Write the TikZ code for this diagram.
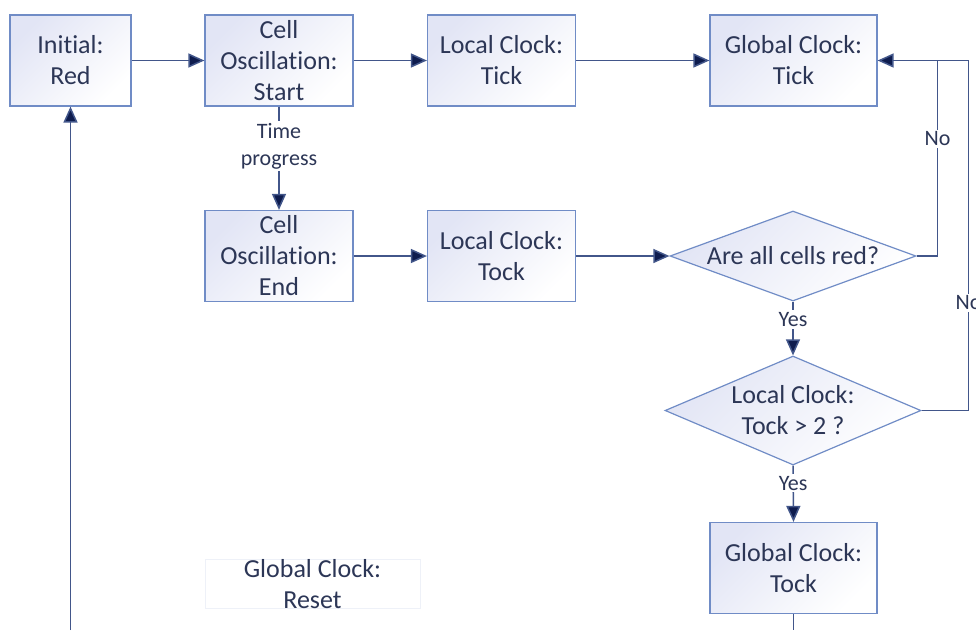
\documentclass[tikz,border=0pt]{standalone}
\usepackage{fontspec}
\setmainfont{Carlito}[Ligatures=NoCommon]
\usetikzlibrary{shapes.geometric,arrows.meta}

\definecolor{boxline}{RGB}{112,140,198}
\definecolor{boxfill}{RGB}{226,229,245}
\definecolor{inkblue}{RGB}{44,54,86}
\definecolor{flowline}{RGB}{66,86,138}
\definecolor{flowhead}{RGB}{14,28,78}

\begin{document}
\begin{tikzpicture}[x=1pt, y=-1pt,
    >={Triangle[length=16pt,width=14pt,fill=flowhead]},
    block/.style={draw=boxline, line width=1.2pt, top color=boxfill, bottom color=white,
        shading angle=45, text=inkblue, align=center, inner sep=0pt,
        font=\fontsize{26}{31}\selectfont, minimum height=91pt},
    decision/.style={block, diamond, aspect=2.7},
    flow/.style={draw=flowline, line width=1.5pt},
    lab/.style={fill=white, text=inkblue, align=center, inner sep=2pt,
        font=\fontsize{22}{27}\selectfont}]
    \useasboundingbox (0,0) rectangle (976,630);

    % top row
    \node[block, minimum width=121pt] (init)   at (70.5,60.5)  {Initial:\\Red};
    \node[block, minimum width=148pt] (start)  at (279,60.5)   {Cell\\Oscillation:\\Start};
    \node[block, minimum width=148pt] (ltick)  at (501.5,60.5) {Local Clock:\\Tick};
    \node[block, minimum width=167pt] (gtick)  at (793.5,60.5) {Global Clock:\\Tick};

    % second row
    \node[block, minimum width=148pt] (stop)   at (279,256)    {Cell\\Oscillation:\\End};
    \node[block, minimum width=148pt] (ltock)  at (501.5,256)  {Local Clock:\\Tock};
    \node[decision, minimum width=246pt, minimum height=90pt] (allred) at (793,256) {Are all cells red?};

    % right column
    \node[decision, minimum width=252pt, minimum height=109pt] (tockcheck) at (793,410.5) {Local Clock:\\Tock > 2 ?};
    \node[block, minimum width=167pt] (gtock)  at (793.5,568)  {Global Clock:\\Tock};

    \node[draw=boxline!12, text=inkblue, align=center, inner sep=0pt,
        font=\fontsize{26}{31}\selectfont, minimum width=215pt, minimum height=38pt]
        (greset) at (312.5,584) {Global Clock:\\Reset};

    \coordinate (backin) at (70.5,630);
    \coordinate (gtockout) at (793.5,630);

    \draw[flow, ->] (init) -- (start);
    \draw[flow, ->] (start) -- (ltick);
    \draw[flow, ->] (ltick) -- (gtick);
    \draw[flow, ->] (start) -- node[lab, pos=0.38] {Time\\progress} (stop);
    \draw[flow, ->] (stop) -- (ltock);
    \draw[flow, ->] (ltock) -- (allred);

    \draw[flow, ->] (allred.south) -- node[lab, pos=0.33] {Yes} (tockcheck.north);
    \draw[flow, ->] (tockcheck.south) -- node[lab, pos=0.31] {Yes} (gtock.north);

    % back to the global tick
    \draw[flow] (tockcheck.east) -- ++(47,0) |- node[lab, pos=0.154] {No} (gtick.east);
    \draw[flow, ->] (allred.east) -- ++(21,0) |- node[lab, pos=0.3] {No} (gtick.east);

    \draw[flow] (gtock.south) -- (gtockout);
    \draw[flow, ->] (backin) -- (init.south);
\end{tikzpicture}
\end{document}
